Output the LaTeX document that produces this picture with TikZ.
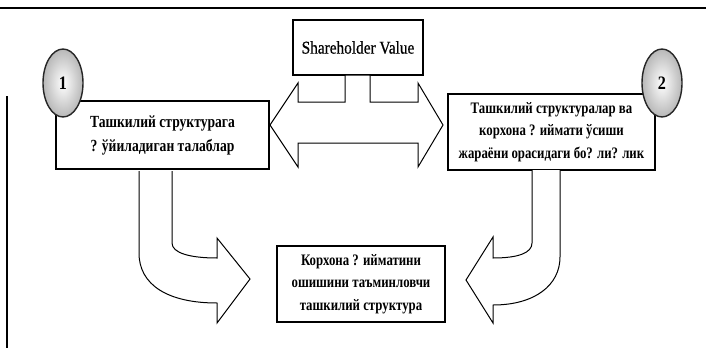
\documentclass[tikz,border=0pt]{standalone}
\usepackage{fontspec}
\usetikzlibrary{shapes.geometric}
\setmainfont{Liberation Serif}[FakeStretch=0.85,FakeBold=0.6]
\newfontfamily\cyrfont{Liberation Serif Bold}[FakeStretch=0.8]
\newfontfamily\numfont{Liberation Serif Bold}[FakeStretch=0.85]
\begin{document}
\begin{tikzpicture}[x=1pt,y=-1pt,
  textbox/.style={draw, line width=1.1pt, fill=white, inner sep=0pt, align=center},
  blockarrow/.style={draw, line width=1pt, fill=white, line join=miter},
  badge/.style={ellipse, minimum width=40pt, minimum height=68pt, inner sep=0pt,
    draw=black!85, line width=1.4pt, inner color=white, outer color=black!28,
    font=\numfont\fontsize{19}{20}\selectfont}]
\useasboundingbox (0,0) rectangle (706,348);
% frame fragments
\coordinate (ftl) at (0,8);
\coordinate (ftr) at (706,8);
\coordinate (flt) at (7,96);
\coordinate (flb) at (7,348);
\draw[line width=1.2pt] (ftl) -- (ftr);
\draw[line width=1.2pt] (flt) -- (flb);

% boxes
\node[textbox, minimum width=130pt, minimum height=55pt, font=\fontsize{18}{22}\selectfont] (sv) at (358,47.5) {Shareholder Value};
\node[textbox, minimum width=213pt, minimum height=68pt, font=\cyrfont\fontsize{17}{24}\selectfont] (b1) at (162.5,135) {Ташкилий структурага\\? ўйиладиган талаблар};
\node[textbox, minimum width=207pt, minimum height=76pt, font=\cyrfont\fontsize{16}{22.5}\selectfont] (b2) at (551.5,132) {Ташкилий структуралар ва\\корхона ? иймати ўсиши\\жараёни орасидаги бо? ли? лик};
\node[textbox, minimum width=168pt, minimum height=76pt, font=\cyrfont\fontsize{16}{22.5}\selectfont] (b3) at (361,284) {Корхона ? ийматини\\ошишини таъминловчи\\ташкилий структура};

% double arrow from Shareholder Value
\draw[blockarrow] (270,125) -- (298,83) -- (298,102) -- (345,102) -- (345,75)
  -- (370,75) -- (370,102) -- (418,102) -- (418,83) -- (443,125) -- (418,167)
  -- (418,143) -- (298,143) -- (298,167) -- cycle;

% left curved arrow
\draw[blockarrow] (139,171) -- (139,253) .. controls (139,285) and (168,303) .. (217,303)
  -- (217,323) -- (250,279) -- (217,238) -- (217,258)
  .. controls (190,258) and (172,253) .. (172,243) -- (172,171);

% right curved arrow
\draw[blockarrow] (560,170) -- (560,257) .. controls (560,285) and (535,305) .. (493,305)
  -- (493,323) -- (466,280) -- (493,237) -- (493,258)
  .. controls (518,258) and (532,253) .. (532,243) -- (532,170);

% badges
\node[badge] (c1) at (63,83) {1};
\node[badge] (c2) at (662,83) {2};
\end{tikzpicture}
\end{document}
